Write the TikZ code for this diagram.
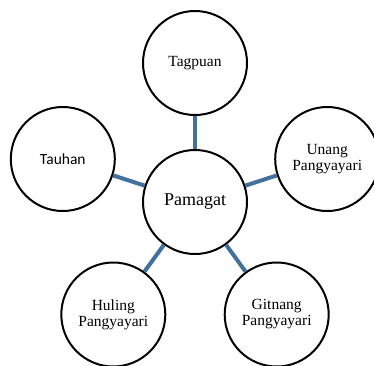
\documentclass[tikz,border=0pt]{standalone}
\usepackage{fontspec}
\setmainfont{Liberation Serif}
\newfontfamily\calib{Carlito}
\definecolor{linkblue}{RGB}{65,113,156}
\begin{document}
\begin{tikzpicture}[x=1pt,y=1pt,
  bubble/.style={circle,draw=black,line width=2pt,minimum size=104pt,inner sep=0pt,align=center,font=\fontsize{15.5}{16}\selectfont},
  link/.style={draw=linkblue,line width=4pt}]
\useasboundingbox (0,0) rectangle (374,-365);
\node[bubble,font=\fontsize{18}{20}\selectfont] (pam) at (195,-202) {Pamagat};
\node[bubble] (tag) at (195,-63) {Tagpuan};
\node[bubble,font=\calib\fontsize{15.5}{16}\selectfont] (tau) at (62.8,-159) {Tauhan};
\node[bubble] (una) at (327.2,-159) {Unang\\Pangyayari};
\node[bubble] (hul) at (113.3,-314.5) {Huling\\Pangyayari};
\node[bubble] (git) at (276.7,-314.5) {Gitnang\\Pangyayari};
\draw[link] (pam) -- (tag);
\draw[link] (pam) -- (tau);
\draw[link] (pam) -- (una);
\draw[link] (pam) -- (hul);
\draw[link] (pam) -- (git);
\end{tikzpicture}
\end{document}
